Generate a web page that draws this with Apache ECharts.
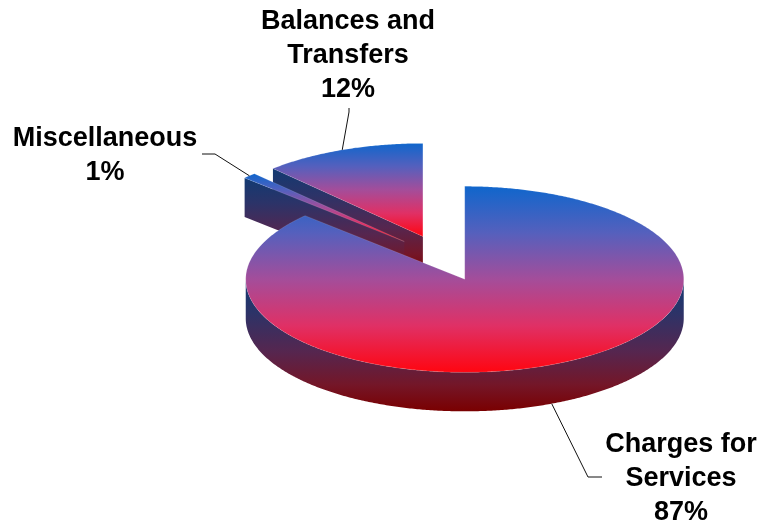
<!DOCTYPE html>
<html>
<head>
<meta charset="utf-8">
<title>Revenue sources</title>
<style>html,body{margin:0;padding:0;background:#fff}#chart{width:762px;height:527px}</style>
<script src="https://cdn.jsdelivr.net/npm/echarts@6/dist/echarts.min.js"></script>
</head>
<body>
<div id="chart"></div>
<script>
// Revenue shares, clockwise from twelve o'clock
const categories = ['Charges for\nServices', 'Miscellaneous', 'Balances and\nTransfers'];
const shares = [87, 1, 12];

// Tilted pie geometry, in pixels
const CX = 443, CY = 258, RX = 219, RY = 93, DEPTH = 39, EXPLODE = 0.25;

// Callout placement for each slice: elbow and end of the leader, then the text centre
const callouts = [
  { elbow: [588, 477], end: [602, 477], text: [681, 479] },
  { elbow: [215, 154], end: [202, 154], text: [105, 156] },
  { elbow: [349, 112], end: [349, 108], text: [348, 56] }
];

const TOP_STOPS = [
  { offset: 0, color: '#0f66cc' },
  { offset: 0.25, color: '#5560bd' },
  { offset: 0.5, color: '#a44d9a' },
  { offset: 0.75, color: '#e03065' },
  { offset: 1, color: '#ff0510' }
];
const WALL_STOPS = [
  { offset: 0, color: '#123a72' },
  { offset: 0.25, color: '#2c3368' },
  { offset: 0.55, color: '#56264f' },
  { offset: 0.8, color: '#741628' },
  { offset: 1, color: '#7a0000' }
];
const vertical = stops => new echarts.graphic.LinearGradient(0, 0, 0, 1, stops);

const total = shares.reduce((a, b) => a + b, 0);
const spans = [];
shares.reduce((start, v) => {
  const end = start + v / total * 360;
  spans.push([start, end]);
  return end;
}, 0);

// Point on the rim at a clockwise angle in degrees from twelve o'clock
const rim = (c, deg, dy) => {
  const a = deg * Math.PI / 180;
  return [c[0] + RX * Math.sin(a), c[1] - RY * Math.cos(a) + (dy || 0)];
};

const arc = (c, from, to, dy) => {
  const n = Math.max(2, Math.ceil(Math.abs(to - from) * 2));
  const pts = [];
  for (let i = 0; i <= n; i++) pts.push(rim(c, from + (to - from) * i / n, dy));
  return pts;
};

function renderSlice(params, api) {
  const i = api.value(0);
  const [start, end] = spans[i];
  const mid = (start + end) / 2;
  const m = mid * Math.PI / 180;
  const c = [CX + EXPLODE * RX * Math.sin(m), CY - EXPLODE * RY * Math.cos(m)];
  const children = [];

  // Cut face along the leading radius, which looks toward the viewer on the left side
  const outer = rim(c, start);
  if (start > 180) {
    children.push({
      type: 'polygon',
      shape: { points: [outer, c, [c[0], c[1] + DEPTH], [outer[0], outer[1] + DEPTH]] },
      style: { fill: vertical(WALL_STOPS) }
    });
  }

  // Rim wall on the front half of the ellipse
  const wallFrom = Math.max(start, 90), wallTo = Math.min(end, 270);
  if (wallTo > wallFrom) {
    children.push({
      type: 'polygon',
      shape: { points: arc(c, wallFrom, wallTo, 0).concat(arc(c, wallTo, wallFrom, DEPTH)) },
      style: { fill: vertical(WALL_STOPS) }
    });
  }

  // Top face
  children.push({
    type: 'polygon',
    shape: { points: [c].concat(arc(c, start, end, 0)) },
    style: { fill: vertical(TOP_STOPS), stroke: 'rgba(255,255,255,0.25)', lineWidth: 0.5 }
  });

  // Leader and label
  const callout = callouts[i];
  const anchor = rim(c, mid, mid > 90 && mid < 270 ? DEPTH : 0);
  children.push({
    type: 'polyline',
    shape: { points: [anchor, callout.elbow, callout.end] },
    style: { fill: null, stroke: '#111', lineWidth: 1 }
  });
  children.push({
    type: 'text',
    style: {
      text: categories[i] + '\n' + shares[i] + '%',
      x: callout.text[0],
      y: callout.text[1],
      align: 'center',
      verticalAlign: 'middle',
      font: 'bold 27px "Liberation Sans", Arial, sans-serif',
      lineHeight: 34,
      fill: '#000'
    }
  });
  return { type: 'group', children };
}

const chart = echarts.init(document.getElementById('chart'), null, { renderer: 'canvas' });
chart.setOption({
  animation: false,
  backgroundColor: '#fff',
  series: [{
    type: 'custom',
    coordinateSystem: 'none',
    silent: true,
    renderItem: renderSlice,
    // Back-to-front painting order
    data: [[2], [1], [0]]
  }]
});
</script>
</body>
</html>
